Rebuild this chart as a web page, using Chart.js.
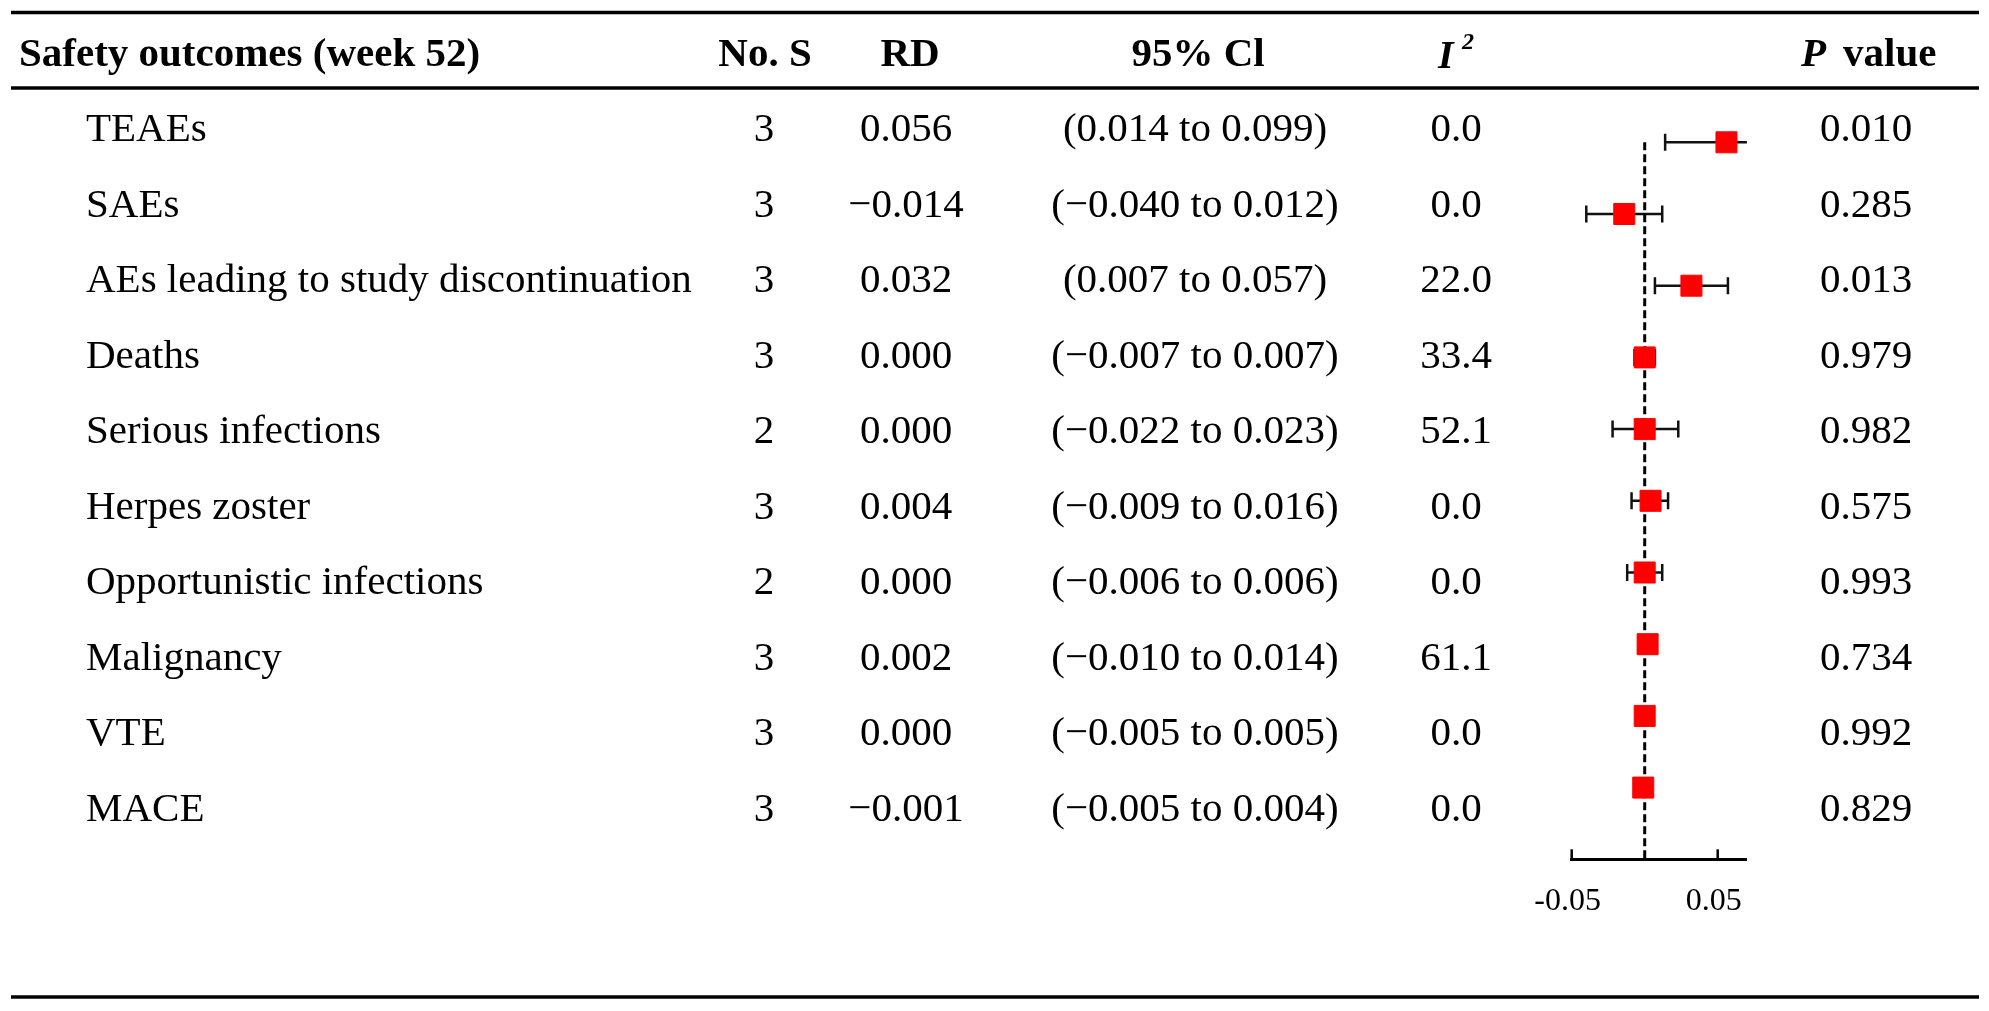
<!DOCTYPE html>
<html>
<head>
<meta charset="utf-8">
<title>Safety outcomes (week 52)</title>
<script src="https://cdn.jsdelivr.net/npm/chart.js@4.4.1/dist/chart.umd.min.js"></script>
<style>
  html, body { margin: 0; padding: 0; background: #fff; }
  canvas { display: block; }
</style>
</head>
<body>
<canvas id="forest" width="1989" height="1011"></canvas>
<script>
// Table rows
const outcomes = [
  'TEAEs', 'SAEs', 'AEs leading to study discontinuation', 'Deaths', 'Serious infections',
  'Herpes zoster', 'Opportunistic infections', 'Malignancy', 'VTE', 'MACE',
];
const studies = [3, 3, 3, 3, 2, 3, 2, 3, 3, 3];
const rd = [0.056, -0.014, 0.032, 0.000, 0.000, 0.004, 0.000, 0.002, 0.000, -0.001];
const ciLow = [0.014, -0.040, 0.007, -0.007, -0.022, -0.009, -0.006, -0.010, -0.005, -0.005];
const ciHigh = [0.099, 0.012, 0.057, 0.007, 0.023, 0.016, 0.006, 0.014, 0.005, 0.004];
const i2 = [0.0, 0.0, 22.0, 33.4, 52.1, 0.0, 0.0, 61.1, 0.0, 0.0];
const pValues = [0.010, 0.285, 0.013, 0.979, 0.982, 0.575, 0.993, 0.734, 0.992, 0.829];
// Whiskers as drawn in the plot (two rows differ from the table)
const barLow = [0.014, -0.040, 0.007, -0.007, -0.022, -0.009, -0.012, -0.004, -0.005, -0.005];
const barHigh = [0.099, 0.012, 0.057, 0.007, 0.023, 0.016, 0.012, 0.008, 0.005, 0.004];
// Axis
const xTicks = [-0.05, 0.05];
const xMin = -0.05;
const xMax = 0.07;

const SERIF = '"Liberation Serif", "Times New Roman", serif';
const fmt = (v, d) => (v < 0 ? '\u2212' : '') + Math.abs(v).toFixed(d);

// Whiskers under the squares
const whiskerPlugin = {
  id: 'whiskers',
  beforeDatasetsDraw(chart) {
    const { ctx, scales: { x, y } } = chart;
    ctx.save();
    ctx.strokeStyle = '#111';
    ctx.lineWidth = 2.5;
    barLow.forEach((lo, i) => {
      const hi = barHigh[i];
      const py = y.getPixelForValue(i);
      const x1 = x.getPixelForValue(Math.max(lo, x.min));
      const x2 = x.getPixelForValue(Math.min(hi, x.max));
      ctx.beginPath();
      ctx.moveTo(x1, py);
      ctx.lineTo(x2, py);
      if (lo >= x.min) { ctx.moveTo(x1, py - 8.5); ctx.lineTo(x1, py + 8.5); }
      if (hi <= x.max) { ctx.moveTo(x2, py - 8.5); ctx.lineTo(x2, py + 8.5); }
      ctx.stroke();
    });
    ctx.restore();
  },
  afterDraw(chart) {
    // tick marks point up from the axis
    const { ctx, chartArea, scales: { x } } = chart;
    ctx.save();
    ctx.strokeStyle = '#000';
    ctx.lineWidth = 2.5;
    xTicks.forEach((v) => {
      const px = x.getPixelForValue(v);
      ctx.beginPath();
      ctx.moveTo(px, chartArea.bottom);
      ctx.lineTo(px, chartArea.bottom - 10);
      ctx.stroke();
    });
    ctx.restore();
  },
};

// Table text and rules
const tablePlugin = {
  id: 'table',
  afterDraw(chart) {
    const { ctx } = chart;
    ctx.save();
    ctx.fillStyle = '#000';
    ctx.strokeStyle = '#000';
    ctx.lineWidth = 3.5;
    [12.5, 88, 997].forEach((y) => {
      ctx.beginPath();
      ctx.moveTo(11, y);
      ctx.lineTo(1979, y);
      ctx.stroke();
    });

    // header, a little squeezed vertically
    ctx.save();
    const sy = 0.96;
    ctx.scale(1, sy);
    const hy = 66 / sy;
    ctx.textBaseline = 'alphabetic';
    ctx.font = `bold 41px ${SERIF}`;
    ctx.textAlign = 'left';
    ctx.fillText('Safety outcomes (week 52)', 19, hy);
    ctx.textAlign = 'center';
    ctx.fillText('No. S', 765, hy);
    ctx.fillText('RD', 910, hy);
    ctx.fillText('95% Cl', 1198, hy);
    ctx.textAlign = 'left';
    ctx.fillText('value', 1843, hy);
    ctx.font = `italic bold 41px ${SERIF}`;
    ctx.fillText('P', 1801, hy);
    ctx.restore();
    ctx.textBaseline = 'alphabetic';
    ctx.textAlign = 'left';
    ctx.font = `italic bold 40px ${SERIF}`;
    ctx.fillText('I', 1438, 68);
    ctx.font = `italic bold 24px ${SERIF}`;
    ctx.fillText('2', 1462, 49);

    ctx.font = `41px ${SERIF}`;
    outcomes.forEach((name, i) => {
      const y = 141 + 75.5 * i;
      ctx.textAlign = 'left';
      ctx.fillText(name, 86, y);
      ctx.textAlign = 'center';
      ctx.fillText(String(studies[i]), 764, y);
      ctx.fillText(fmt(rd[i], 3), 906, y);
      ctx.fillText(`(${fmt(ciLow[i], 3)} to ${fmt(ciHigh[i], 3)})`, 1195, y);
      ctx.fillText(i2[i].toFixed(1), 1456, y);
      ctx.fillText(pValues[i].toFixed(3), 1866, y);
    });
    ctx.restore();
  },
};

const rowGap = 71.7;
const firstRow = 142.3;
const axisY = 859.3;
const axisH = 60;

new Chart(document.getElementById('forest'), {
  type: 'scatter',
  data: {
    datasets: [
      // red squares
      {
        data: rd.map((v, i) => ({ x: v, y: i })),
        pointStyle: 'rect',
        pointRadius: 14.85,
        backgroundColor: '#ff0000',
        borderColor: '#ff0000',
        borderWidth: 1,
      },
      // line of no effect
      {
        type: 'line',
        data: [{ x: 0, y: 0 }, { x: 0, y: 10 }],
        borderColor: '#000',
        borderWidth: 3,
        borderDash: [8, 4],
        pointRadius: 0,
        fill: false,
      },
    ],
  },
  options: {
    responsive: false,
    devicePixelRatio: 1,
    animation: false,
    events: [],
    layout: {
      padding: {
        left: 1571.7,
        right: 1989 - 1746.9,
        top: firstRow - rowGap / 2,
        bottom: 1011 - axisY - axisH,
      },
    },
    scales: {
      x: {
        type: 'linear',
        position: 'bottom',
        min: xMin,
        max: xMax,
        afterBuildTicks: (scale) => { scale.ticks = xTicks.map((v) => ({ value: v })); },
        afterFit: (scale) => { scale.height = axisH; },
        grid: { display: false, drawTicks: false },
        border: { display: true, color: '#000', width: 3 },
        ticks: {
          autoSkip: false,
          maxRotation: 0,
          padding: 23,
          labelOffset: -4,
          color: '#000',
          font: { family: SERIF, size: 32 },
          callback: (v) => (v < 0 ? '-' : '') + Math.abs(v).toFixed(2),
        },
      },
      y: {
        type: 'linear',
        display: false,
        reverse: true,
        min: -0.5,
        max: 10,
      },
    },
    plugins: {
      legend: { display: false },
      tooltip: { enabled: false },
    },
  },
  plugins: [whiskerPlugin, tablePlugin],
});
</script>
</body>
</html>
